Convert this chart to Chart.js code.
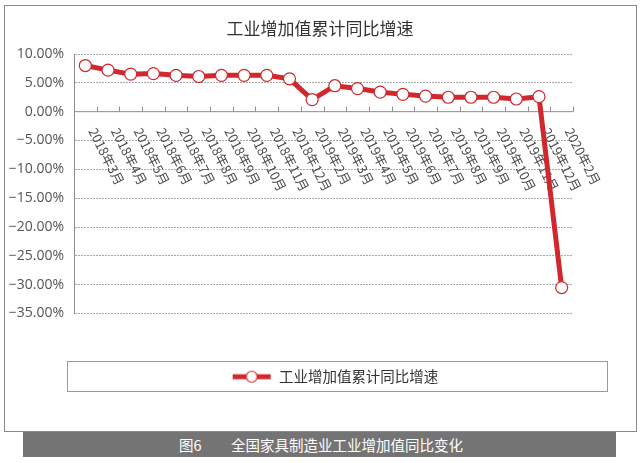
<!DOCTYPE html>
<html>
<head>
    <meta charset="utf-8">
    <title>工业增加值累计同比增速</title>
    <script src="https://cdn.jsdelivr.net/npm/chart.js@4/dist/chart.umd.min.js"></script>
    <style>
        html, body { margin: 0; padding: 0; background: #fff; }
        .page { position: relative; width: 640px; height: 463px; overflow: hidden; }
        .frame { position: absolute; left: 4px; top: 5px; width: 633px; height: 427px; border: 1px solid #8a8a8a; box-sizing: border-box; }
        #growthChart { position: absolute; left: 0; top: 0; }
        .legend-box { position: absolute; left: 67px; top: 361px; width: 541px; height: 31px; border: 1px solid #9a9a9a; box-sizing: border-box; pointer-events: none; }
        .caption { position: absolute; left: 23px; top: 432px; width: 593px; height: 25px; background: #747474; color: #fff;
                   font-family: "Noto Sans CJK SC", sans-serif; font-size: 14.5px; line-height: 25px; }
        .caption span { position: absolute; top: 0; }
    </style>
</head>
<body>
<div class="page">
    <div class="frame"></div>
    <canvas id="growthChart" width="640" height="432"></canvas>
    <div class="legend-box"></div>
    <div class="caption"><span style="left:156px">图6</span><span style="left:208px">全国家具制造业工业增加值同比变化</span></div>
</div>

<script>
    // data
    const categories = ['2018年3月', '2018年4月', '2018年5月', '2018年6月', '2018年7月', '2018年8月',
        '2018年9月', '2018年10月', '2018年11月', '2018年12月', '2019年2月', '2019年3月', '2019年4月',
        '2019年5月', '2019年6月', '2019年7月', '2019年8月', '2019年9月', '2019年10月', '2019年11月',
        '2019年12月', '2020年2月'];
    const growth = [8.0, 7.2, 6.5, 6.6, 6.3, 6.1, 6.3, 6.3, 6.3, 5.7, 2.1,
        4.5, 4.0, 3.4, 3.0, 2.7, 2.5, 2.5, 2.5, 2.2, 2.6, -30.5];
    const seriesName = '工业增加值累计同比增速';
    const yMin = -35, yMax = 10, yStep = 5;

    const RED = '#d1282e';

    // legend symbol: thick line with a hollow circle (left part kept blank to shift the item)
    function legendSymbol() {
        const c = document.createElement('canvas');
        c.width = 70; c.height = 16;
        const g = c.getContext('2d');
        g.strokeStyle = RED;
        g.lineWidth = 5;
        g.beginPath(); g.moveTo(31, 8); g.lineTo(69, 8); g.stroke();
        g.beginPath(); g.arc(50, 8, 5.5, 0, Math.PI * 2);
        g.fillStyle = '#fff'; g.fill();
        g.lineWidth = 1.2; g.stroke();
        return c;
    }

    // category labels + zero line + tick marks, drawn at y = 0 like the excel original
    const zeroAxis = {
        id: 'zeroAxis',
        beforeDatasetsDraw(chart) {
            const ctx = chart.ctx, xs = chart.scales.x, ys = chart.scales.y, area = chart.chartArea;
            const y0 = ys.getPixelForValue(0);
            ctx.save();
            ctx.strokeStyle = '#8c8c8c';
            ctx.lineWidth = 1;
            ctx.beginPath();
            ctx.moveTo(area.left, y0); ctx.lineTo(area.right, y0);
            for (let i = 0; i <= categories.length; i++) {
                const px = Math.round(xs.getPixelForValue(i - 0.5)) + 0.5;
                ctx.moveTo(px, y0 - 5); ctx.lineTo(px, y0);
            }
            ctx.stroke();

            ctx.fillStyle = '#4a4a4a';
            ctx.font = '13px "Noto Sans CJK SC", sans-serif';
            ctx.textAlign = 'left';
            ctx.textBaseline = 'middle';
            categories.forEach((lab, i) => {
                const px = xs.getPixelForValue(i);
                ctx.save();
                ctx.translate(px + 7, y0 + 17);
                ctx.rotate(63 * Math.PI / 180);
                ctx.fillText(lab, 0, 0);
                ctx.restore();
            });
            ctx.restore();
        }
    };

    const ctx = document.getElementById('growthChart').getContext('2d');
    const growthChart = new Chart(ctx, {
        type: 'line',
        data: {
            labels: categories,
            datasets: [{
                label: seriesName,
                data: growth,
                yAxisID: 'y',
                borderColor: RED,
                borderWidth: 5,
                tension: 0,
                pointRadius: 6,
                pointHoverRadius: 6,
                pointBackgroundColor: '#fff',
                pointBorderColor: RED,
                pointBorderWidth: 1.2
            }]
        },
        options: {
            responsive: false,
            animation: false,
            layout: { padding: { left: 0, right: 0, top: 0, bottom: 38 } },
            plugins: {
                title: {
                    display: true,
                    text: seriesName,
                    color: '#333',
                    font: { family: '"Noto Sans CJK SC", sans-serif', size: 17, weight: 'normal' },
                    padding: { top: 18, bottom: 15.6 }
                },
                legend: {
                    position: 'bottom',
                    labels: {
                        usePointStyle: true,
                        pointStyle: legendSymbol(),
                        pointStyleWidth: 70,
                        color: '#333',
                        font: { family: '"Noto Sans CJK SC", sans-serif', size: 14.5 }
                    }
                },
                tooltip: { enabled: false }
            },
            scales: {
                x: {
                    type: 'category',
                    offset: true,
                    ticks: { display: false },
                    grid: { display: false },
                    border: { display: false },
                    afterFit(s) { s.height = 46; }
                },
                y: {
                    position: 'left',
                    min: yMin,
                    max: yMax,
                    ticks: {
                        stepSize: yStep,
                        padding: 10,
                        color: '#555',
                        font: { family: '"Open Sans", sans-serif', size: 14 },
                        callback: v => (v < 0 ? '−' : '') + Math.abs(v).toFixed(2) + '%'
                    },
                    grid: {
                        drawTicks: false,
                        color: ctx => ctx.tick && ctx.tick.value === 0 ? 'rgba(0,0,0,0)' : '#a8a8a8'
                    },
                    border: { display: true, color: '#8c8c8c', dash: [2, 1] },
                    afterFit(s) { s.width = 74; }
                },
                y2: {
                    position: 'right',
                    ticks: { display: false },
                    grid: { display: false },
                    border: { display: false },
                    afterFit(s) { s.width = 67; }
                }
            }
        },
        plugins: [zeroAxis]
    });
</script>
</body>
</html>
